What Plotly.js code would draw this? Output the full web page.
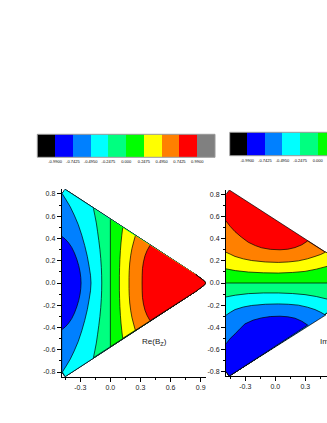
<!DOCTYPE html>
<html><head><meta charset="utf-8">
<script src="https://cdn.plot.ly/plotly-3.0.1.min.js"></script>
<style>html,body{margin:0;padding:0;background:#fff;overflow:hidden}</style>
</head><body><div id="chart" style="width:327px;height:423px"></div>
<script>
// colour scale
const barLevels = [-1.2375,-0.99,-0.7425,-0.495,-0.2475,0,0.2475,0.495,0.7425,0.99,1.2375];
const barColors = ['#000000','#0000ff','#0080ff','#00ffff','#00ff80','#00ff00','#ffff00','#ff8000','#ff0000','#808080'];
const barTickVals = [-0.99,-0.7425,-0.495,-0.2475,0,0.2475,0.495,0.7425,0.99];
const barTickText = ['-0.9900','-0.7425','-0.4950','-0.2475','0.000','0.2475','0.4950','0.7425','0.9900'];

// axes ticks
const xTickVals = [-0.3,0,0.3,0.6,0.9];
const xTickText = ['-0.3','0.0','0.3','0.6','0.9'];
const xMinor = [-0.45,-0.15,0.15,0.45,0.75];
const yTickVals = [-0.8,-0.6,-0.4,-0.2,0,0.2,0.4,0.6,0.8];
const yTickText = ['-0.8','-0.6','-0.4','-0.2','0.0','0.2','0.4','0.6','0.8'];
const yMinor = [-0.7,-0.5,-0.3,-0.1,0.1,0.3,0.5,0.7];

// triangle outlines, clockwise from upper left
const leftOutline = [[-0.485,0.80],[-0.451,0.842],[0.85,0.076],[0.936,0.018],[0.95,0],[0.936,-0.018],[0.85,-0.076],[-0.451,-0.842],[-0.485,-0.80]];
const rightOutline = [[-0.493,0.80],[-0.46,0.84],[0.85,0.076],[0.936,0.018],[0.95,0],[0.936,-0.018],[0.85,-0.076],[-0.46,-0.84],[-0.493,-0.80]];

// Re(Bz) contours, upper end to lower end
const reContour1 = [[-0.485,0.42],[-0.45,0.395],[-0.415,0.36],[-0.385,0.32],[-0.358,0.27],[-0.335,0.215],[-0.315,0.155],[-0.302,0.10],[-0.295,0.05],[-0.292,0],[-0.295,-0.05],[-0.302,-0.10],[-0.315,-0.155],[-0.335,-0.215],[-0.358,-0.27],[-0.385,-0.32],[-0.415,-0.36],[-0.45,-0.395],[-0.485,-0.42]];
const reContour2 = [[-0.478,0.80],[-0.44,0.745],[-0.40,0.685],[-0.36,0.61],[-0.32,0.525],[-0.285,0.43],[-0.255,0.335],[-0.23,0.24],[-0.212,0.15],[-0.198,0.07],[-0.193,0],[-0.198,-0.07],[-0.212,-0.15],[-0.23,-0.24],[-0.255,-0.335],[-0.285,-0.43],[-0.32,-0.525],[-0.36,-0.61],[-0.40,-0.685],[-0.44,-0.745],[-0.478,-0.80]];
const reContour3 = [[-0.169,0.671],[-0.155,0.61],[-0.14,0.54],[-0.127,0.46],[-0.115,0.38],[-0.104,0.30],[-0.096,0.22],[-0.09,0.14],[-0.087,0.07],[-0.086,0],[-0.087,-0.07],[-0.09,-0.14],[-0.096,-0.22],[-0.104,-0.30],[-0.115,-0.38],[-0.127,-0.46],[-0.14,-0.54],[-0.155,-0.61],[-0.169,-0.671]];
const reContour4 = [[0,0.572],[0,0],[0,-0.572]];
const reContour5 = [[0.123,0.497],[0.114,0.43],[0.106,0.36],[0.10,0.29],[0.095,0.21],[0.092,0.14],[0.09,0.07],[0.09,0],[0.09,-0.07],[0.092,-0.14],[0.095,-0.21],[0.10,-0.29],[0.106,-0.36],[0.114,-0.43],[0.123,-0.497]];
const reContour6 = [[0.249,0.425],[0.232,0.37],[0.215,0.31],[0.203,0.25],[0.193,0.18],[0.188,0.11],[0.186,0.05],[0.186,0],[0.186,-0.05],[0.188,-0.11],[0.193,-0.18],[0.203,-0.25],[0.215,-0.31],[0.232,-0.37],[0.249,-0.425]];
const reContour7 = [[0.395,0.339],[0.365,0.29],[0.345,0.245],[0.33,0.19],[0.32,0.13],[0.317,0.07],[0.316,0],[0.317,-0.07],[0.32,-0.13],[0.33,-0.19],[0.345,-0.245],[0.365,-0.29],[0.395,-0.339]];
const reBands = ['#0000ff','#0080ff','#00ffff','#00ff80','#00ff00','#ffff00','#ff8000','#ff0000'];

// Im(Bz) contours, left end to right end
const imContour1 = [[-0.493,0.56],[-0.45,0.51],[-0.403,0.464],[-0.34,0.415],[-0.27,0.368],[-0.20,0.338],[-0.137,0.318],[-0.05,0.304],[0.047,0.30],[0.125,0.305],[0.197,0.32],[0.265,0.345],[0.324,0.38]];
const imContour2 = [[-0.493,0.278],[-0.45,0.26],[-0.403,0.24],[-0.32,0.218],[-0.237,0.203],[-0.10,0.19],[0.03,0.186],[0.13,0.19],[0.23,0.20],[0.32,0.218],[0.397,0.24],[0.455,0.258],[0.505,0.28]];
const imContour3 = [[-0.493,0.128],[-0.40,0.112],[-0.27,0.099],[-0.12,0.092],[0.03,0.09],[0.17,0.095],[0.297,0.105],[0.41,0.125],[0.517,0.15],[0.60,0.165],[0.68,0.175]];
const imContour4 = [[-0.493,0],[0.95,0]];
const imContour5 = [[-0.493,-0.126],[-0.40,-0.11],[-0.27,-0.096],[-0.12,-0.09],[0.03,-0.09],[0.17,-0.095],[0.297,-0.105],[0.41,-0.122],[0.517,-0.145],[0.60,-0.162],[0.68,-0.175]];
const imContour6 = [[-0.493,-0.291],[-0.45,-0.265],[-0.403,-0.24],[-0.32,-0.217],[-0.237,-0.203],[-0.10,-0.192],[0.03,-0.189],[0.13,-0.192],[0.23,-0.20],[0.32,-0.218],[0.397,-0.24],[0.455,-0.265],[0.503,-0.29]];
const imContour7 = [[-0.493,-0.55],[-0.45,-0.50],[-0.403,-0.46],[-0.35,-0.41],[-0.303,-0.369],[-0.22,-0.335],[-0.137,-0.315],[-0.05,-0.303],[0.047,-0.30],[0.125,-0.305],[0.197,-0.318],[0.265,-0.345],[0.324,-0.38]];
const imBands = ['#ff0000','#ff8000','#ffff00','#00ff00','#00ff80','#00ffff','#0080ff','#0000ff'];

const W = 327, H = 423;
const px = (a,b) => [a/W, b/W];
const py = (top,bottom) => [1-bottom/H, 1-top/H];
const line = {color:'#000', width:0.7, simplify:false};

function poly(points, color, xa, ya){
  return {type:'scatter', mode:'lines', x:points.map(p=>p[0]), y:points.map(p=>p[1]),
    fill:'toself', fillcolor:color, line:line, xaxis:xa, yaxis:ya, hoverinfo:'skip', showlegend:false};
}
// region right of a left-panel contour
function rightOf(c){
  const e = c[c.length-1], s = c[0];
  const lower = leftOutline.filter(p => p[1] < 0 && p[0] >= e[0]).reverse();
  const tip = leftOutline.filter(p => p[1] === 0);
  const upper = leftOutline.filter(p => p[1] > 0 && p[0] >= s[0]).reverse();
  return c.concat(lower, tip, upper);
}
// region below a right-panel contour
function below(c){
  const e = c[c.length-1];
  const rest = rightOutline.filter(p =>
    (e[1] > 0 && p[1] > 0 && p[0] > e[0]) || (e[1] >= 0 && p[1] <= 0 && !(p[0]===e[0] && p[1]===e[1])) ||
    (e[1] < 0 && p[1] < 0 && p[0] < e[0]));
  return c.concat(rest);
}

const traces = [];
traces.push(poly(leftOutline, reBands[0], 'x','y'));
[reContour1,reContour2,reContour3,reContour4,reContour5,reContour6,reContour7].forEach((c,i)=>{
  traces.push(poly(rightOf(c), reBands[i+1], 'x','y'));
});
traces.push(poly(rightOutline, imBands[0], 'x2','y2'));
[imContour1,imContour2,imContour3,imContour4,imContour5,imContour6,imContour7].forEach((c,i)=>{
  traces.push(poly(below(c), imBands[i+1], 'x2','y2'));
});
const mids = barColors.map((_,i)=>(barLevels[i]+barLevels[i+1])/2);
const widths = barColors.map((_,i)=>barLevels[i+1]-barLevels[i]);
const ones = barColors.map(()=>1);
['3','4'].forEach(n=>{
  traces.push({type:'bar', x:mids, y:ones, width:widths, marker:{color:barColors,line:{width:0}},
    xaxis:'x'+n, yaxis:'y'+n, hoverinfo:'skip', showlegend:false});
});

const fontFam = 'Liberation Sans, Arial, sans-serif';
const xAxis = (dom,range,anchor) => ({domain:dom, range:range, anchor:anchor, showgrid:false, zeroline:false,
  showline:true, linecolor:'#000', linewidth:1, ticks:'outside', ticklen:4, tickwidth:1, tickcolor:'#000',
  tickmode:'array', tickvals:xTickVals, ticktext:xTickText, tickfont:{family:fontFam,size:7,color:'#222'},
  minor:{tickmode:'array', tickvals:xMinor, ticks:'outside', ticklen:2, tickwidth:1, tickcolor:'#000', showgrid:false}});
const yAxis = (dom,range,anchor) => ({domain:dom, range:range, anchor:anchor, showgrid:false, zeroline:false,
  showline:true, linecolor:'#000', linewidth:1, ticks:'outside', ticklen:4, tickwidth:1, tickcolor:'#000',
  tickmode:'array', tickvals:yTickVals, ticktext:yTickText, tickfont:{family:fontFam,size:7,color:'#222'},
  minor:{tickmode:'array', tickvals:yMinor, ticks:'outside', ticklen:2, tickwidth:1, tickcolor:'#000', showgrid:false}});
const barX = (dom,range,anchor) => ({domain:dom, range:range, anchor:anchor, showgrid:false, zeroline:false,
  showline:false, ticks:'', tickmode:'array', tickvals:barTickVals, ticktext:barTickText, ticklabelstandoff:1,
  tickfont:{family:fontFam,size:4,color:'#000'}});
const barY = (dom,anchor) => ({domain:dom, range:[0,1], anchor:anchor, showgrid:false, zeroline:false,
  showline:false, showticklabels:false, ticks:''});

const layout = {
  width:W, height:H, margin:{l:0,r:0,t:0,b:0}, paper_bgcolor:'#fff', plot_bgcolor:'rgba(0,0,0,0)',
  showlegend:false, bargap:0,
  xaxis: xAxis(px(61.7,205.7),[-0.485,0.95],'y'),
  yaxis: yAxis(py(189.3,376.7),[-0.842,0.842],'x'),
  xaxis2: xAxis(px(226,327),[-0.493,0.517],'y2'),
  yaxis2: yAxis(py(190,376),[-0.84,0.84],'x2'),
  xaxis3: barX(px(37.3,215),[-1.2375,1.2375],'y3'),
  yaxis3: barY(py(134.3,157.3),'x3'),
  xaxis4: barX(px(229.7,327),[-1.2375,0.131],'y4'),
  yaxis4: barY(py(132.3,155.7),'x4'),
  shapes:[
    {type:'rect',xref:'paper',yref:'paper',x0:37.3/W,x1:215/W,y0:1-157.3/H,y1:1-134.3/H,line:{color:'#999',width:1}},
    {type:'rect',xref:'paper',yref:'paper',x0:229.7/W,x1:340/W,y0:1-155.7/H,y1:1-132.3/H,line:{color:'#999',width:1}}
  ],
  annotations:[
    {xref:'paper',yref:'paper',x:139.5/W,y:1-342/H,xanchor:'left',yanchor:'middle',showarrow:false,
     text:'Re(B<sub>Z</sub>)',font:{family:fontFam,size:8,color:'#222',weight:400}},
    {xref:'paper',yref:'paper',x:317.5/W,y:1-342/H,xanchor:'left',yanchor:'middle',showarrow:false,
     text:'Im(B<sub>Z</sub>)',font:{family:fontFam,size:8,color:'#222',weight:400}}
  ]
};
Plotly.newPlot('chart', traces, layout, {displayModeBar:false, staticPlot:true});
</script></body></html>
